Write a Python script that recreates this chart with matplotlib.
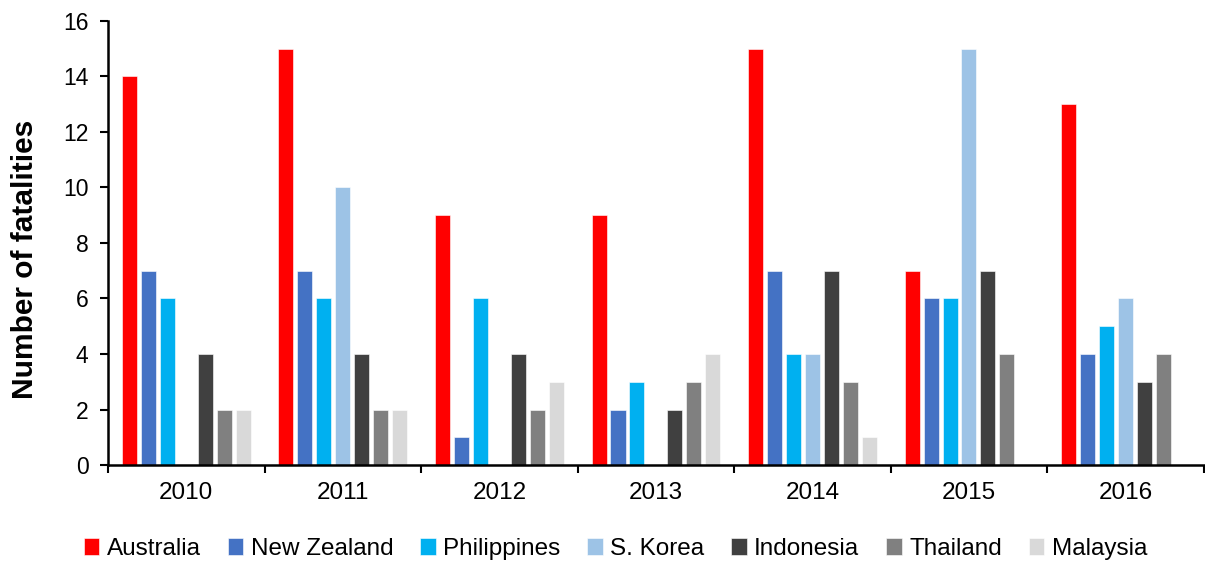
import numpy as np
import matplotlib.pyplot as plt
from matplotlib.ticker import FixedLocator

plt.rcParams['font.family'] = ['Liberation Sans', 'DejaVu Sans']

years = ['2010', '2011', '2012', '2013', '2014', '2015', '2016']
countries = ['Australia', 'New Zealand', 'Philippines', 'S. Korea',
             'Indonesia', 'Thailand', 'Malaysia']
australia = [14, 15, 9, 9, 15, 7, 13]
new_zealand = [7, 7, 1, 2, 7, 6, 4]
philippines = [6, 6, 6, 3, 4, 6, 5]
s_korea = [0, 10, 0, 0, 4, 15, 6]
indonesia = [4, 4, 4, 2, 7, 7, 3]
thailand = [2, 2, 2, 3, 3, 4, 4]
malaysia = [2, 2, 3, 4, 1, 0, 0]

series = [australia, new_zealand, philippines, s_korea, indonesia, thailand, malaysia]
colors = ['#FF0000', '#4472C4', '#00B0F0', '#9DC3E6', '#404040', '#808080', '#D9D9D9']

fig = plt.figure(figsize=(12.05, 5.61), dpi=100)
ax = fig.add_axes([0.0896, 0.171, 0.9094, 0.792])

x = np.arange(len(years))
pitch = 0.121
width = 0.096
for i, (vals, c, name) in enumerate(zip(series, colors, countries)):
    off = (i - 3) * pitch
    ax.bar(x + off, vals, width=width, color=c, label=name,
           edgecolor='white', linewidth=0.4)

ax.set_xlim(-0.5, len(years) - 0.5)
ax.set_ylim(0, 16)
ax.set_yticks(range(0, 17, 2))
ax.set_xticks(x)
ax.set_xticklabels(years)
ax.xaxis.set_minor_locator(FixedLocator(np.arange(-0.5, len(years), 1.0)))
ax.tick_params(axis='x', which='major', length=0, pad=12, labelsize=17.5)
ax.tick_params(axis='x', which='minor', length=6, width=1.5, direction='out')
ax.tick_params(axis='y', length=6, width=1.5, direction='out', labelsize=16.5, pad=8)

for s in ['top', 'right']:
    ax.spines[s].set_visible(False)
for s in ['left', 'bottom']:
    ax.spines[s].set_linewidth(1.8)

ax.set_ylabel('Number of fatalities', fontsize=21.5, fontweight='bold')
ax.yaxis.set_label_coords(-0.063, 0.464)

leg = ax.legend(loc='upper center', bbox_to_anchor=(0.463, -0.115), ncol=7,
                frameon=False, fontsize=17.5, handlelength=0.65, handleheight=0.65,
                handletextpad=0.3, columnspacing=1.1)

fig.savefig('out.png', dpi=100)
